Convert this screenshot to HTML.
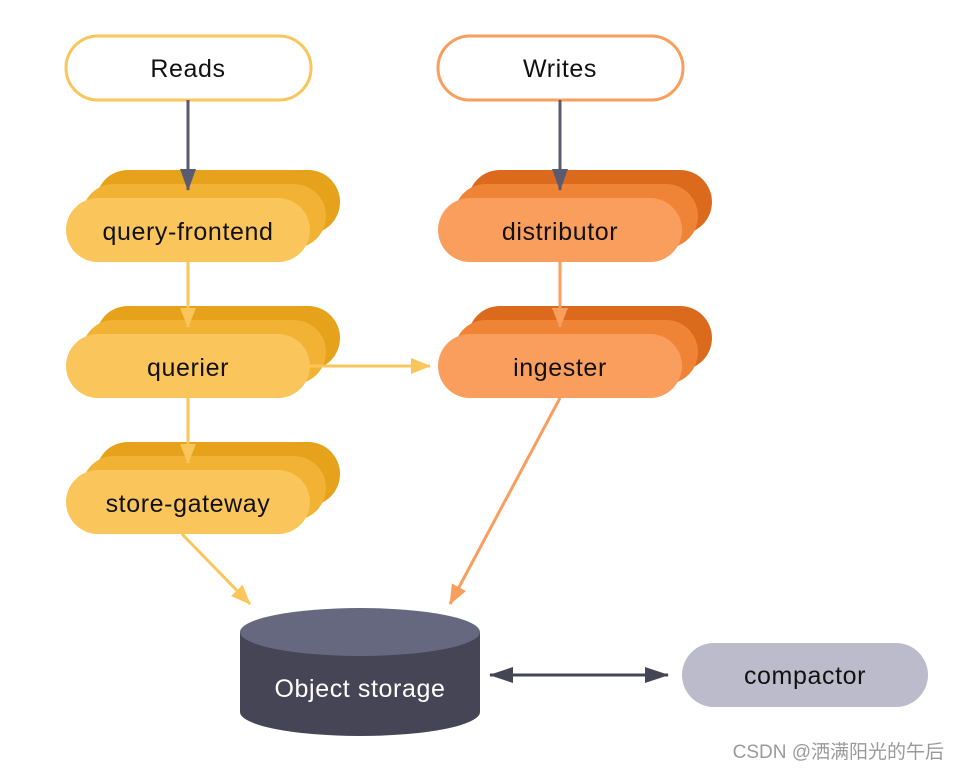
<!DOCTYPE html>
<html><head><meta charset="utf-8"><style>
html,body{margin:0;padding:0;background:#fff;width:960px;height:771px;overflow:hidden}
svg{display:block}
text{font-family:"Liberation Sans","Noto Sans CJK SC",sans-serif}
.l{font-size:25px;letter-spacing:0.6px}
</style></head><body>
<svg width="960" height="771" viewBox="0 0 960 771">
<defs>
<marker id="ay" markerWidth="20" markerHeight="20" refX="19" refY="10" orient="auto" markerUnits="userSpaceOnUse" viewBox="0 0 20 20"><path d="M0,2 L20,10 L0,18 z" fill="#FAC55A"/></marker>
<marker id="ao" markerWidth="20" markerHeight="20" refX="19" refY="10" orient="auto" markerUnits="userSpaceOnUse" viewBox="0 0 20 20"><path d="M0,2 L20,10 L0,18 z" fill="#F99E5C"/></marker>
<marker id="ad" markerWidth="22" markerHeight="22" refX="21" refY="11" orient="auto" markerUnits="userSpaceOnUse" viewBox="0 0 22 22"><path d="M0,3 L22,11 L0,19 z" fill="#5A5A70"/></marker>
<marker id="dk" markerWidth="24" markerHeight="20" refX="23" refY="10" orient="auto-start-reverse" markerUnits="userSpaceOnUse" viewBox="0 0 24 20"><path d="M0,2 L24,10 L0,18 z" fill="#464555"/></marker>
</defs>

<rect x="66" y="36" width="245" height="64" rx="32" fill="#fff" stroke="#FAC55A" stroke-width="3"/>
<text class="l" x="188" y="77" text-anchor="middle" fill="#111">Reads</text>
<rect x="438" y="36" width="245" height="64" rx="32" fill="#fff" stroke="#F99E5C" stroke-width="3"/>
<text class="l" x="560" y="77" text-anchor="middle" fill="#111">Writes</text>

<g>
<rect x="96" y="170" width="244" height="64" rx="32" fill="#E6A21A"/>
<rect x="82" y="184" width="244" height="64" rx="32" fill="#F2B233"/>
<rect x="66" y="198" width="244" height="64" rx="32" fill="#FAC55A"/>
<text class="l" x="188" y="240" text-anchor="middle" fill="#111">query-frontend</text>
</g>
<g>
<rect x="96" y="306" width="244" height="64" rx="32" fill="#E6A21A"/>
<rect x="82" y="320" width="244" height="64" rx="32" fill="#F2B233"/>
<rect x="66" y="334" width="244" height="64" rx="32" fill="#FAC55A"/>
<text class="l" x="188" y="376" text-anchor="middle" fill="#111">querier</text>
</g>
<g>
<rect x="96" y="442" width="244" height="64" rx="32" fill="#E6A21A"/>
<rect x="82" y="456" width="244" height="64" rx="32" fill="#F2B233"/>
<rect x="66" y="470" width="244" height="64" rx="32" fill="#FAC55A"/>
<text class="l" x="188" y="512" text-anchor="middle" fill="#111">store-gateway</text>
</g>
<g>
<rect x="468" y="170" width="244" height="64" rx="32" fill="#DC6A1C"/>
<rect x="454" y="184" width="244" height="64" rx="32" fill="#EF8436"/>
<rect x="438" y="198" width="244" height="64" rx="32" fill="#F99E5C"/>
<text class="l" x="560" y="240" text-anchor="middle" fill="#111">distributor</text>
</g>
<g>
<rect x="468" y="306" width="244" height="64" rx="32" fill="#DC6A1C"/>
<rect x="454" y="320" width="244" height="64" rx="32" fill="#EF8436"/>
<rect x="438" y="334" width="244" height="64" rx="32" fill="#F99E5C"/>
<text class="l" x="560" y="376" text-anchor="middle" fill="#111">ingester</text>
</g>

<line x1="188" y1="100" x2="188" y2="190" stroke="#5A5A70" stroke-width="3" marker-end="url(#ad)"/>
<line x1="560" y1="100" x2="560" y2="190" stroke="#5A5A70" stroke-width="3" marker-end="url(#ad)"/>
<line x1="188" y1="262" x2="188" y2="327" stroke="#FAC55A" stroke-width="3" marker-end="url(#ay)"/>
<line x1="188" y1="398" x2="188" y2="463" stroke="#FAC55A" stroke-width="3" marker-end="url(#ay)"/>
<line x1="310" y1="366" x2="430" y2="366" stroke="#FAC55A" stroke-width="3" marker-end="url(#ay)"/>
<line x1="560" y1="262" x2="560" y2="327" stroke="#F99E5C" stroke-width="3" marker-end="url(#ao)"/>
<line x1="182" y1="534" x2="250" y2="604" stroke="#FAC55A" stroke-width="3" marker-end="url(#ay)"/>
<line x1="560" y1="398" x2="450" y2="604" stroke="#F99E5C" stroke-width="3" marker-end="url(#ao)"/>
<line x1="490" y1="675" x2="668" y2="675" stroke="#464555" stroke-width="3" marker-start="url(#dk)" marker-end="url(#dk)"/>

<path d="M240,632 L240,712 A120,24 0 0 0 480,712 L480,632 z" fill="#464555"/>
<ellipse cx="360" cy="632" rx="120" ry="24" fill="#666880"/>
<text class="l" x="360" y="697" text-anchor="middle" fill="#fff">Object storage</text>

<rect x="682" y="643" width="246" height="64" rx="32" fill="#BCBBCB"/>
<text class="l" x="805" y="684" text-anchor="middle" fill="#111">compactor</text>

<text x="944" y="758" font-size="19" text-anchor="end" fill="#9a9a9a">CSDN @洒满阳光的午后</text>
</svg>
</body></html>
